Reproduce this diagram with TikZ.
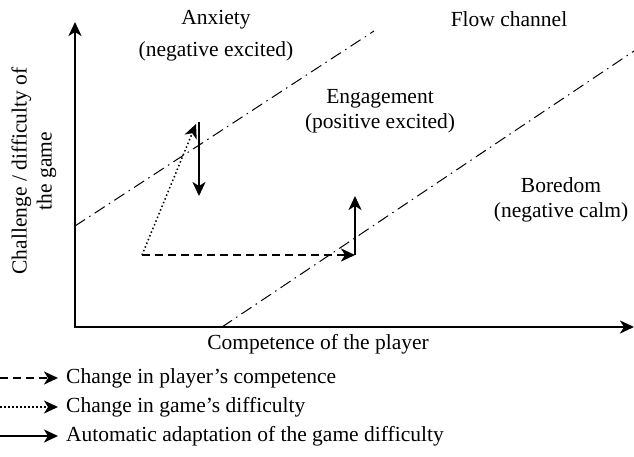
\documentclass[tikz,border=0pt]{standalone}
\usepackage{fontspec}
\setmainfont{Liberation Serif}
\usetikzlibrary{arrows.meta}

\begin{document}
\begin{tikzpicture}[x=1pt,y=-1pt,
	>={Stealth[length=14pt,width=13pt,inset=4pt]},
	every node/.style={font=\fontsize{21.5}{25}\selectfont,inner sep=0pt,align=center},
	dashdot/.style={line width=1pt,dash pattern=on 12pt off 5pt on 1.5pt off 5pt},
	compline/.style={line width=2pt,dash pattern=on 8pt off 5pt},
	diffline/.style={line width=1.5pt,dash pattern=on 1.5pt off 2.5pt},
	adaptline/.style={line width=2pt}]
	\useasboundingbox (0,0) rectangle (634,456);

	\coordinate (origin) at (75,327);
	\coordinate (ytop) at (75,22);
	\coordinate (xend) at (634,327);
	\draw[line width=2pt,<->] (ytop) -- (origin) -- (xend);

	\coordinate (upA) at (75,226);
	\coordinate (upB) at (374,31);
	\coordinate (loA) at (222,327);
	\coordinate (loB) at (634,51);
	\draw[dashdot] (upA) -- (upB);
	\draw[dashdot] (loA) -- (loB);

	\coordinate (start) at (142,255);
	\coordinate (competent) at (355,255);
	\coordinate (raised) at (355,196);
	\coordinate (harder) at (196,124);
	\coordinate (easedtop) at (199,122);
	\coordinate (eased) at (199,196);
	\draw[compline,->] (start) -- (competent);
	\draw[diffline,->] (start) -- (harder);
	\draw[adaptline,->] (easedtop) -- (eased);
	\draw[adaptline,->] (competent) -- (raised);

	\node (anxiety) at (216,36) {Anxiety\\[7pt](negative excited)};
	\node (flow) at (509,19) {Flow channel};
	\node (engagement) at (380,111) {Engagement\\(positive excited)};
	\node (boredom) at (561,200) {Boredom\\(negative calm)};
	\node (xlabel) at (318,344) {Competence of the player};
	\node[rotate=90] (ylabel) at (34,171) {Challenge / difficulty of\\the game};

	\node[anchor=west,inner xsep=8pt] (lgcomp) at (58,378) {Change in player's competence};
	\node[anchor=west,inner xsep=8pt] (lgdiff) at (58,407) {Change in game's difficulty};
	\node[anchor=west,inner xsep=8pt] (lgadapt) at (58,436) {Automatic adaptation of the game difficulty};
	\coordinate (lgcompA) at (0,378);
	\coordinate (lgdiffA) at (0,407);
	\coordinate (lgadaptA) at (0,436);
	\draw[compline,->] (lgcompA) -- (lgcomp.west);
	\draw[diffline,->] (lgdiffA) -- (lgdiff.west);
	\draw[adaptline,->] (lgadaptA) -- (lgadapt.west);
\end{tikzpicture}
\end{document}
